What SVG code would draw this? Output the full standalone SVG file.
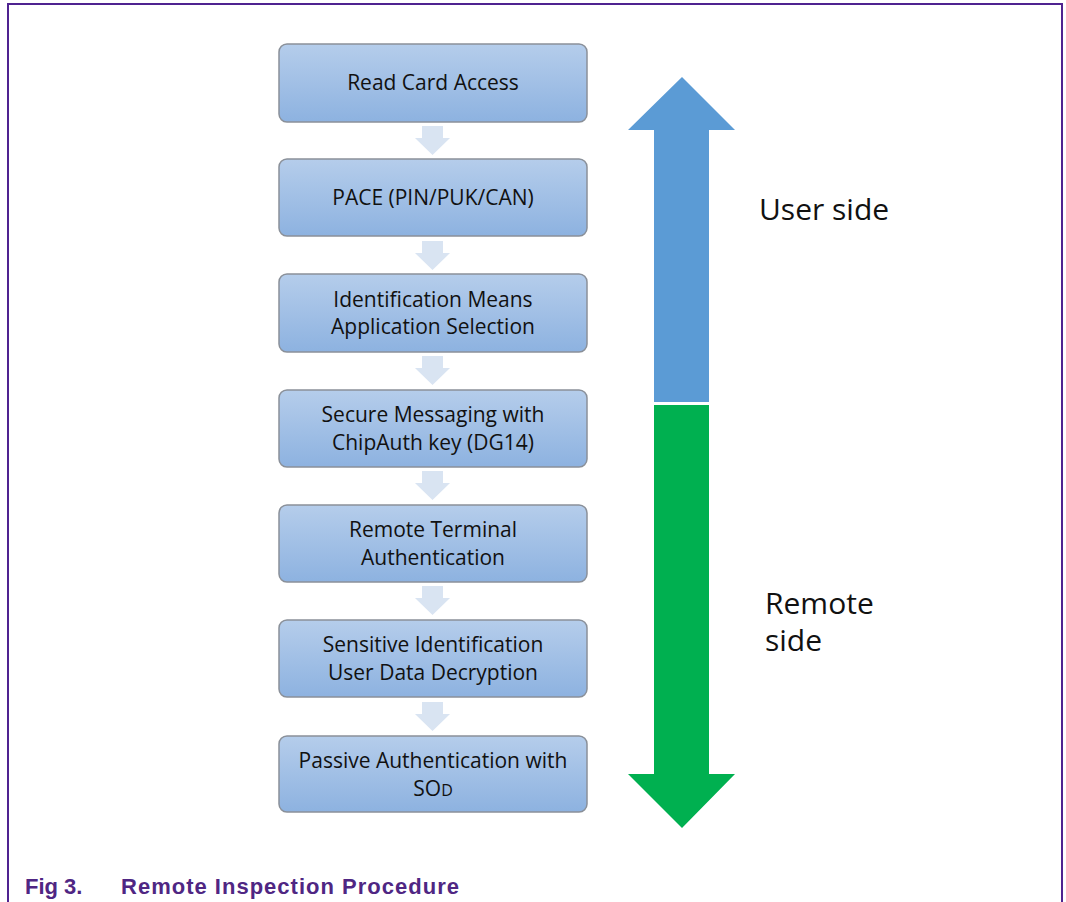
<svg xmlns="http://www.w3.org/2000/svg" width="1066" height="902" viewBox="0 0 1066 902">
<defs>
<linearGradient id="boxg" x1="0" y1="0" x2="0" y2="1">
<stop offset="0" stop-color="#b5cdeb"/>
<stop offset="1" stop-color="#8db2e0"/>
</linearGradient>
<style>
.box{fill:url(#boxg);stroke:#8a9099;stroke-width:1.5}
.bt{font-family:"Open Sans","Liberation Sans",sans-serif;font-size:21px;fill:#111;text-anchor:middle}
.side{font-family:"Open Sans","Liberation Sans",sans-serif;font-size:30px;fill:#111}
.sa{fill:#d9e4f2}
.cap{font-family:"Liberation Sans",Arial,sans-serif;font-weight:bold;font-size:22px;fill:#4f2683}
</style>
</defs>
<rect width="1066" height="902" fill="#fff"/>
<path d="M8 902 V4 H1062 V902" fill="none" stroke="#4f2390" stroke-width="2"/>

<g id="connectors">
<polygon class="sa" points="422,126 443,126 443,138 450,138 432.5,155 415,138 422,138"/>
<polygon class="sa" points="422,241 443,241 443,253 450,253 432.5,270 415,253 422,253"/>
<polygon class="sa" points="422,356 443,356 443,368 450,368 432.5,385 415,368 422,368"/>
<polygon class="sa" points="422,471 443,471 443,483 450,483 432.5,500 415,483 422,483"/>
<polygon class="sa" points="422,586 443,586 443,598 450,598 432.5,615 415,598 422,598"/>
<polygon class="sa" points="422,702 443,702 443,714 450,714 432.5,731 415,714 422,714"/>
</g>

<g id="n1"><rect class="box" x="279" y="44" width="308" height="78" rx="8"/><text class="bt" x="433" y="90">Read Card Access</text></g>
<g id="n2"><rect class="box" x="279" y="159" width="308" height="77" rx="8"/><text class="bt" x="433" y="205">PACE (PIN/PUK/CAN)</text></g>
<g id="n3"><rect class="box" x="279" y="274" width="308" height="78" rx="8"/><text class="bt" x="433" y="307">Identification Means</text><text class="bt" x="433" y="334">Application Selection</text></g>
<g id="n4"><rect class="box" x="279" y="390" width="308" height="77" rx="8"/><text class="bt" x="433" y="422">Secure Messaging with</text><text class="bt" x="433" y="450">ChipAuth key (DG14)</text></g>
<g id="n5"><rect class="box" x="279" y="505" width="308" height="77" rx="8"/><text class="bt" x="433" y="537">Remote Terminal</text><text class="bt" x="433" y="565">Authentication</text></g>
<g id="n6"><rect class="box" x="279" y="620" width="308" height="77" rx="8"/><text class="bt" x="433" y="652">Sensitive Identification</text><text class="bt" x="433" y="680">User Data Decryption</text></g>
<g id="n7"><rect class="box" x="279" y="736" width="308" height="76" rx="8"/><text class="bt" x="433" y="768">Passive Authentication with</text><text class="bt" x="433" y="796">SO<tspan font-size="16">D</tspan></text></g>

<g id="user-side">
<polygon fill="#5b9bd5" points="682,77 735,130 709,130 709,402 654,402 654,130 628,130"/>
<text class="side" x="759" y="220">User side</text>
</g>
<g id="remote-side">
<polygon fill="#00b050" points="654,405 709,405 709,774 735,774 682,828 628,774 654,774"/>
<text class="side" x="765" y="614">Remote</text>
<text class="side" x="765" y="651">side</text>
</g>

<g id="caption">
<text class="cap" x="25" y="894">Fig 3.</text>
<text class="cap" x="121" y="894" textLength="338" lengthAdjust="spacing">Remote Inspection Procedure</text>
</g>
</svg>
